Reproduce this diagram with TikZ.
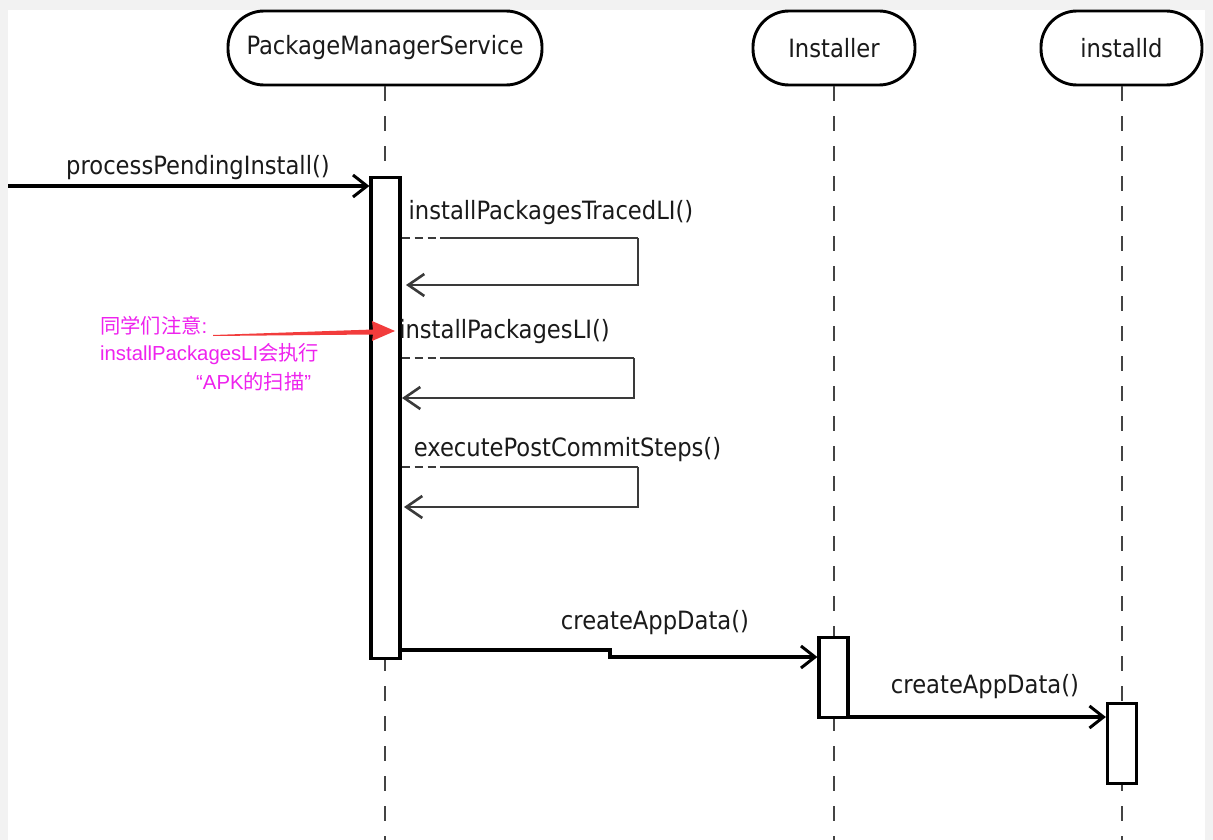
\documentclass[tikz,border=0pt]{standalone}
\usepackage{fontspec}
\setmainfont{DejaVu Sans Condensed}
\newfontfamily\cjk{Noto Sans CJK SC}
\newfontfamily\latn{Liberation Sans}
\usetikzlibrary{arrows.meta,calc}
\definecolor{bggray}{HTML}{F2F2F2}
\definecolor{notecol}{HTML}{EE22EE}
\definecolor{redarrow}{HTML}{F23C3C}
\definecolor{inkcol}{HTML}{1A1A1A}
\definecolor{lifecol}{HTML}{444444}
\definecolor{selfcol}{HTML}{3A3A3A}
\begin{document}
\begin{tikzpicture}[x=1pt,y=-1pt,
  txt/.style={inner sep=0pt, text=inkcol, font=\fontsize{25.2}{29}\selectfont},
  headbox/.style={draw=black, line width=2.9pt, rounded corners=36pt, minimum height=74pt, fill=white, txt},
  actbox/.style={draw=black, line width=3.2pt, fill=white, minimum width=29pt, inner sep=0pt},
  life/.style={draw=lifecol, line width=2pt, dash pattern=on 15pt off 15pt},
  msg/.style={draw=black, line width=3.3pt, -{Straight Barb[length=14pt,width=22pt,line width=3pt]}},
  selfl/.style={draw=selfcol, line width=2.6pt},
  selfd/.style={draw=selfcol, line width=2.6pt, dash pattern=on 8pt off 5pt},
  selfarr/.style={draw=selfcol, line width=2.6pt, -{Straight Barb[length=16pt,width=22pt,line width=2.6pt]}},
  note/.style={inner sep=0pt, text=notecol, anchor=west, font=\cjk\fontsize{20.3}{24}\selectfont}]
% background frame
\fill[bggray] (0,0) rectangle (1213,840);
\fill[white] (8,10) rectangle (1205,840);
\useasboundingbox (0,0) rectangle (1213,840);

% heads
\node[headbox, minimum width=314pt] (pms) at (385,48) {PackageManagerService};
\node[headbox, minimum width=162pt] (inst) at (834,48) {Installer};
\node[headbox, minimum width=161pt] (instd) at (1121.5,48) {installd};

% lifeline ends
\coordinate (pmsend) at (385,840);
\coordinate (instend) at (834,840);
\coordinate (instdend) at (1121.5,840);
\draw[life] (pms.south) -- (pmsend);
\draw[life] (inst.south) -- (instend);
\draw[life] (instd.south) -- (instdend);

% activations
\node[actbox, minimum height=481pt] (a1) at (385.5,418) {};
\node[actbox, minimum height=80pt] (a2) at (833.5,677.5) {};
\node[actbox, minimum height=80pt] (a3) at (1122,743.5) {};

% processPendingInstall
\coordinate (src) at (8,186);
\draw[msg] (src) -- (src -| a1.west);
\node[txt] (l0) at (198,168) {processPendingInstall()};

% self call 1
\coordinate (s1a) at (440,238);
\coordinate (s1b) at (638,238);
\coordinate (s1c) at (638,285);
\coordinate (s1d) at (406,285);
\draw[selfd] (a1.east |- s1a) -- (s1a);
\draw[selfl] (s1a) -- (s1b);
\draw[selfarr] (s1b) -- (s1c) -- (s1d);
\node[txt] (l1) at (551,213) {installPackagesTracedLI()};

% self call 2
\coordinate (s2a) at (440,358);
\coordinate (s2b) at (634,358);
\coordinate (s2c) at (634,398);
\coordinate (s2d) at (402,398);
\draw[selfd] (a1.east |- s2a) -- (s2a);
\draw[selfl] (s2a) -- (s2b);
\draw[selfarr] (s2b) -- (s2c) -- (s2d);
\node[txt] (l2) at (504.5,332) {installPackagesLI()};

% self call 3
\coordinate (s3a) at (440,467);
\coordinate (s3b) at (638,467);
\coordinate (s3c) at (638,507);
\coordinate (s3d) at (404,507);
\draw[selfd] (a1.east |- s3a) -- (s3a);
\draw[selfl] (s3a) -- (s3b);
\draw[selfarr] (s3b) -- (s3c) -- (s3d);
\node[txt] (l3) at (567.5,450) {executePostCommitSteps()};

% createAppData 1
\coordinate (c1a) at (610,650);
\coordinate (c1b) at (610,657);
\draw[msg] (a1.east |- c1a) -- (c1a) -- (c1b) -- (c1b -| a2.west);
\node[txt] (l4) at (655,623) {createAppData()};

% createAppData 2
\coordinate (c2) at (849,717);
\draw[msg] (a2.east |- c2) -- (c2 -| a3.west);
\node[txt] (l5) at (985,687) {createAppData()};

% annotation
\node[note] (n1) at (100,326) {同学们注意{\latn :}};
\node[note] (n2) at (100,354) {{\latn installPackagesLI}会执行};
\node[note] (n3) at (196,382) {{\latn “APK}的扫描{\latn ”}};
\coordinate (rtail) at (213,336);
\coordinate (rtip) at (395,331);
\fill[redarrow] (rtail) -- ++(0,-1) -- (373,329.5) -- (372,321) -- (rtip) -- (372,341) -- (373,334.5) -- cycle;
\end{tikzpicture}
\end{document}
